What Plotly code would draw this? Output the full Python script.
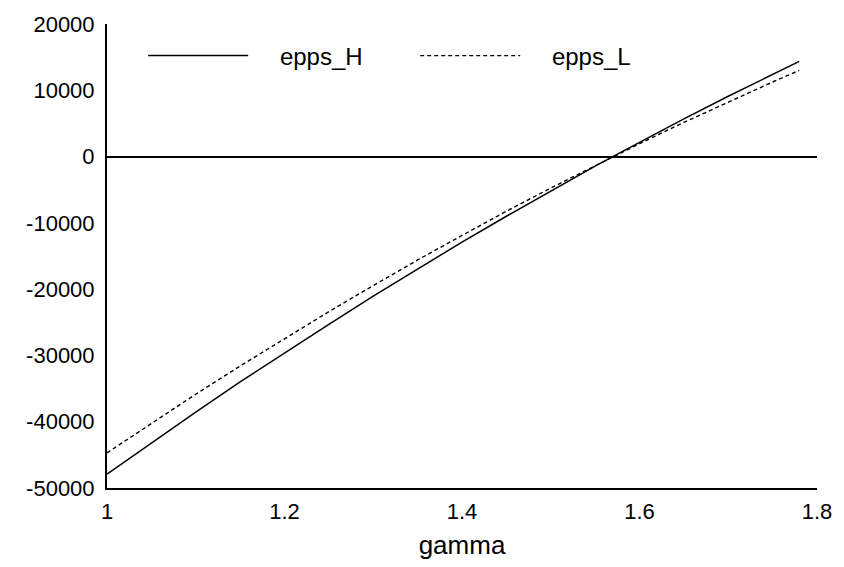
import plotly.graph_objects as go

gamma = [1.00, 1.05, 1.10, 1.15, 1.20, 1.25, 1.30, 1.35, 1.40, 1.45,
         1.50, 1.55, 1.60, 1.65, 1.70, 1.75, 1.78]
epps_H = [-47900, -43200, -38550, -34000, -29600, -25300, -21050, -16950,
          -12900, -9000, -5200, -1450, 2150, 5700, 9100, 12400, 14350]
epps_L = [-44700, -40250, -35850, -31600, -27450, -23400, -19450, -15600,
          -11900, -8250, -4750, -1350, 1950, 5150, 8250, 11250, 13000]

x_ticks = [1, 1.2, 1.4, 1.6, 1.8]
x_ticklabels = ["1", "1.2", "1.4", "1.6", "1.8"]
y_ticks = [-50000, -40000, -30000, -20000, -10000, 0, 10000, 20000]
y_ticklabels = [str(v) for v in y_ticks]

font = "Liberation Sans, Arial, sans-serif"
pad = "\u00a0\u00a0\u00a0\u00a0"

fig = go.Figure()
fig.add_trace(go.Scatter(x=gamma, y=epps_H, mode="lines", name=pad + "epps_H",
                         line=dict(color="black", width=1.5)))
fig.add_trace(go.Scatter(x=gamma, y=epps_L, mode="lines", name=pad + "epps_L",
                         line=dict(color="black", width=1.4, dash="4px,3px")))

fig.update_layout(
    width=844, height=567,
    margin=dict(l=107, r=24, t=24, b=79),
    plot_bgcolor="white", paper_bgcolor="white",
    font=dict(family=font, size=22, color="black"),
    showlegend=True,
    legend=dict(orientation="h", x=0.051, y=0.931, xanchor="left", yanchor="middle",
                font=dict(size=24), itemwidth=100, entrywidth=157,
                bgcolor="rgba(0,0,0,0)"),
    xaxis=dict(range=[1, 1.8], tickvals=x_ticks, ticktext=x_ticklabels,
               showgrid=False, zeroline=False, showline=True, linecolor="black",
               linewidth=2, ticks="", title=dict(text="gamma", standoff=12),
               tickfont=dict(size=22), ticklabelstandoff=3),
    yaxis=dict(range=[-50000, 20000], tickvals=y_ticks, ticktext=y_ticklabels,
               showgrid=False, zeroline=True, zerolinecolor="black", zerolinewidth=2,
               showline=True, linecolor="black", linewidth=2, ticks="",
               tickfont=dict(size=22), ticklabelstandoff=6),
)

fig.write_html("out.html", config={"displayModeBar": False},
               post_script="document.body.style.margin='0';document.body.style.padding='0';")
